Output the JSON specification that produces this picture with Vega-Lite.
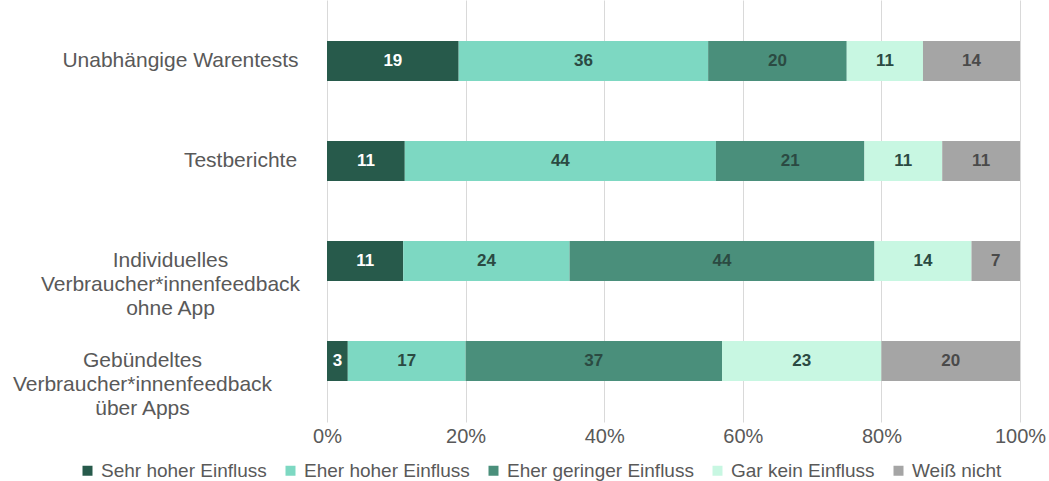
{
  "$schema": "https://vega.github.io/schema/vega-lite/v6.json",
  "width": 693,
  "height": 422,
  "padding": {"left": 5, "top": 0, "right": 0, "bottom": 0},
  "background": "white",
  "config": {"view": {"stroke": null}, "font": "Liberation Sans"},
  "data": {
    "values": [
      {"cat": "Unabhängige  Warentests", "k": 1, "antwort": "Sehr hoher Einfluss", "v": 19},
      {"cat": "Unabhängige  Warentests", "k": 2, "antwort": "Eher hoher Einfluss", "v": 36},
      {"cat": "Unabhängige  Warentests", "k": 3, "antwort": "Eher geringer Einfluss", "v": 20},
      {"cat": "Unabhängige  Warentests", "k": 4, "antwort": "Gar kein Einfluss", "v": 11},
      {"cat": "Unabhängige  Warentests", "k": 5, "antwort": "Weiß nicht", "v": 14},
      {"cat": "Testberichte", "k": 1, "antwort": "Sehr hoher Einfluss", "v": 11},
      {"cat": "Testberichte", "k": 2, "antwort": "Eher hoher Einfluss", "v": 44},
      {"cat": "Testberichte", "k": 3, "antwort": "Eher geringer Einfluss", "v": 21},
      {"cat": "Testberichte", "k": 4, "antwort": "Gar kein Einfluss", "v": 11},
      {"cat": "Testberichte", "k": 5, "antwort": "Weiß nicht", "v": 11},
      {"cat": "Individuelles|Verbraucher*innenfeedback|ohne App", "k": 1, "antwort": "Sehr hoher Einfluss", "v": 11},
      {"cat": "Individuelles|Verbraucher*innenfeedback|ohne App", "k": 2, "antwort": "Eher hoher Einfluss", "v": 24},
      {"cat": "Individuelles|Verbraucher*innenfeedback|ohne App", "k": 3, "antwort": "Eher geringer Einfluss", "v": 44},
      {"cat": "Individuelles|Verbraucher*innenfeedback|ohne App", "k": 4, "antwort": "Gar kein Einfluss", "v": 14},
      {"cat": "Individuelles|Verbraucher*innenfeedback|ohne App", "k": 5, "antwort": "Weiß nicht", "v": 7},
      {"cat": "Gebündeltes|Verbraucher*innenfeedback|über Apps", "k": 1, "antwort": "Sehr hoher Einfluss", "v": 3},
      {"cat": "Gebündeltes|Verbraucher*innenfeedback|über Apps", "k": 2, "antwort": "Eher hoher Einfluss", "v": 17},
      {"cat": "Gebündeltes|Verbraucher*innenfeedback|über Apps", "k": 3, "antwort": "Eher geringer Einfluss", "v": 37},
      {"cat": "Gebündeltes|Verbraucher*innenfeedback|über Apps", "k": 4, "antwort": "Gar kein Einfluss", "v": 23},
      {"cat": "Gebündeltes|Verbraucher*innenfeedback|über Apps", "k": 5, "antwort": "Weiß nicht", "v": 20}
    ]
  },
  "transform": [
    {"stack": "v", "groupby": ["cat"], "sort": [{"field": "k", "order": "ascending"}], "offset": "normalize", "as": ["x0", "x1"]}
  ],
  "encoding": {
    "y": {
      "field": "cat",
      "type": "nominal",
      "sort": null,
      "title": null,
      "scale": {"paddingInner": 0.6, "paddingOuter": 0.41},
      "axis": {
        "domain": false,
        "ticks": false,
        "labelExpr": "split(datum.value, '|')",
        "labelFontSize": 21,
        "labelLineHeight": 24,
        "labelColor": "#595959",
        "labelLimit": 0,
        "labelAlign": "center",
        "labelBaseline": "middle",
        "labelPadding": {
          "condition": [
            {"test": "indexof(datum.value, 'Unab') == 0", "value": 147},
            {"test": "indexof(datum.value, 'Testb') == 0", "value": 87},
            {"test": "indexof(datum.value, 'Indiv') == 0", "value": 157}
          ],
          "value": 185
        },
        "minExtent": 322,
        "maxExtent": 322
      }
    }
  },
  "layer": [
    {
      "mark": {"type": "bar"},
      "encoding": {
        "x": {
          "field": "x0",
          "type": "quantitative",
          "title": null,
          "scale": {"domain": [0, 1], "nice": false},
          "axis": {
            "values": [0, 0.2, 0.4, 0.6, 0.8, 1],
            "format": ".0%",
            "domain": false,
            "ticks": false,
            "grid": true,
            "gridColor": "#d9d9d9",
            "gridWidth": 1,
            "labelFontSize": 20,
            "labelColor": "#595959",
            "labelPadding": 4,
            "labelFlush": false
          }
        },
        "x2": {"field": "x1"},
        "color": {
          "field": "antwort",
          "type": "nominal",
          "title": null,
          "scale": {
            "domain": ["Sehr hoher Einfluss", "Eher hoher Einfluss", "Eher geringer Einfluss", "Gar kein Einfluss", "Weiß nicht"],
            "range": ["#275a4b", "#7dd8c2", "#4a8f7b", "#c8f7e2", "#a5a5a5"]
          },
          "legend": {
            "orient": "none",
            "legendX": -249,
            "legendY": 461,
            "direction": "horizontal",
            "columns": 5,
            "columnPadding": 14,
            "symbolType": "square",
            "symbolSize": 100,
            "symbolStrokeWidth": 0,
            "symbolOffset": 0,
            "labelFontSize": 19,
            "labelColor": "#595959",
            "labelOffset": 4,
            "labelLimit": 0
          }
        }
      }
    },
    {
      "transform": [
        {"fold": ["x0", "x1"], "as": ["edge", "pos"]}
      ],
      "mark": {"type": "text", "fontSize": 17, "fontWeight": "bold", "baseline": "middle", "align": "center"},
      "encoding": {
        "x": {"aggregate": "mean", "field": "pos", "type": "quantitative"},
        "detail": {"field": "antwort", "type": "nominal"},
        "text": {"field": "v", "type": "quantitative"},
        "color": {
          "condition": [
            {"test": "datum.antwort == 'Sehr hoher Einfluss'", "value": "#ffffff"},
            {"test": "datum.antwort == 'Weiß nicht'", "value": "#4a4a4a"}
          ],
          "value": "#2b4a42"
        }
      }
    }
  ]
}
